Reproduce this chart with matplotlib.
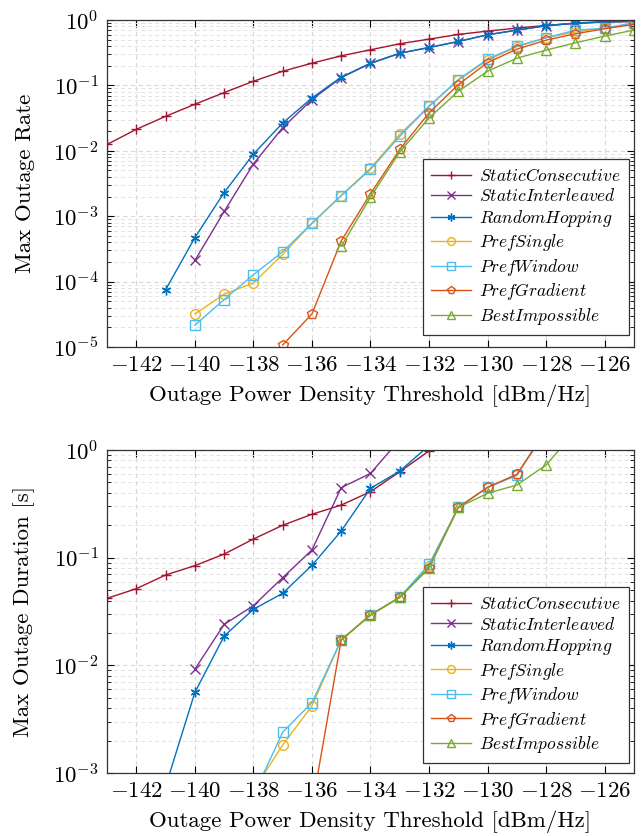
import numpy as np
import matplotlib
matplotlib.use('Agg')
import matplotlib.pyplot as plt
from matplotlib.ticker import LogLocator, NullFormatter, FixedLocator

plt.rcParams['font.family'] = 'cmr10'
plt.rcParams['mathtext.fontset'] = 'cm'
plt.rcParams['axes.formatter.use_mathtext'] = True
plt.rcParams['font.size'] = 16

names = ['StaticConsecutive', 'StaticInterleaved', 'RandomHopping', 'PrefSingle',
         'PrefWindow', 'PrefGradient', 'BestImpossible']
colors = ['#A2142F', '#7E2F8E', '#0072BD', '#EDB120', '#4DBEEE', '#D95319', '#77AC30']
markers = ['+', 'x', (6, 2, 0), 'o', 's', 'p', '^']

# Max Outage Rate
rate_x = {
    'StaticConsecutive': list(range(-143, -124)),
    'StaticInterleaved': list(range(-140, -124)),
    'RandomHopping': list(range(-141, -124)),
    'PrefSingle': list(range(-140, -124)),
    'PrefWindow': list(range(-140, -124)),
    'PrefGradient': list(range(-137, -124)),
    'BestImpossible': list(range(-135, -124)),
}
rate_y = {
    'StaticConsecutive': [0.0125, 0.0213, 0.0337, 0.0515, 0.0778, 0.116, 0.165, 0.219, 0.284,
                          0.351, 0.434, 0.511, 0.603, 0.678, 0.754, 0.828, 0.889, 0.932, 0.966],
    'StaticInterleaved': [2.1e-4, 1.18e-3, 6.3e-3, 0.0226, 0.0607, 0.132, 0.217, 0.31, 0.38,
                          0.47, 0.595, 0.70, 0.818, 0.898, 0.94, 0.952],
    'RandomHopping': [7.5e-5, 4.7e-4, 2.3e-3, 8.9e-3, 0.0266, 0.0644, 0.134, 0.219, 0.312,
                      0.381, 0.471, 0.596, 0.703, 0.819, 0.90, 0.94, 0.95],
    'PrefSingle': [3.2e-5, 6.4e-5, 9.5e-5, 2.6e-4, 7.8e-4, 2.07e-3, 5.4e-3, 0.0179, 0.048,
                   0.12, 0.244, 0.39, 0.536, 0.655, 0.762, 0.869],
    'PrefWindow': [2.15e-5, 5.3e-5, 1.27e-4, 2.86e-4, 7.8e-4, 2.07e-3, 5.2e-3, 0.0167, 0.048,
                   0.123, 0.252, 0.40, 0.536, 0.70, 0.75, 0.91],
    'PrefGradient': [1.07e-5, 3.2e-5, 4.2e-4, 2.2e-3, 0.0105, 0.038, 0.103, 0.224, 0.359,
                     0.493, 0.617, 0.736, 0.858],
    'BestImpossible': [3.46e-4, 1.95e-3, 9.6e-3, 0.0318, 0.0815, 0.165, 0.261, 0.347, 0.449,
                       0.568, 0.703],
}

# Max Outage Duration [s]
dur_x = {
    'StaticConsecutive': list(range(-143, -130)),
    'StaticInterleaved': list(range(-140, -132)),
    'RandomHopping': list(range(-141, -131)),
    'PrefSingle': list(range(-138, -127)),
    'PrefWindow': list(range(-138, -127)),
    'PrefGradient': list(range(-136, -127)),
    'BestImpossible': list(range(-135, -126)),
}
dur_y = {
    'StaticConsecutive': [0.0419, 0.0515, 0.069, 0.0843, 0.108, 0.149, 0.2, 0.253, 0.308,
                          0.41, 0.629, 0.98, 1.5],
    'StaticInterleaved': [9.2e-3, 0.024, 0.0358, 0.0652, 0.118, 0.447, 0.607, 1.25],
    'RandomHopping': [7.5e-4, 5.6e-3, 0.0187, 0.0331, 0.0467, 0.0849, 0.177, 0.441, 0.638, 1.1],
    'PrefSingle': [6.9e-4, 1.82e-3, 4.2e-3, 0.0172, 0.0294, 0.0428, 0.0837, 0.293, 0.45,
                   0.594, 1.5],
    'PrefWindow': [6.2e-4, 2.39e-3, 4.5e-3, 0.0172, 0.0294, 0.0428, 0.087, 0.293, 0.45,
                   0.58, 1.6],
    'PrefGradient': [4.8e-4, 0.0172, 0.0294, 0.0428, 0.08, 0.293, 0.45, 0.594, 1.5],
    'BestImpossible': [0.0172, 0.0294, 0.0428, 0.081, 0.293, 0.396, 0.473, 0.726, 1.5],
}

xticks = list(range(-142, -125, 2))

fig = plt.figure(figsize=(6.41, 8.36), dpi=100)
ax1 = fig.add_axes([0.167, 0.585, 0.822, 0.391])
ax2 = fig.add_axes([0.167, 0.0754, 0.822, 0.3863])


def draw(ax, xs, ys, ylim, ylabel, anchor):
    for name, c, m in zip(names, colors, markers):
        ax.plot(xs[name], ys[name], color=c, marker=m, markersize=7, linewidth=1.0,
                markerfacecolor='none', markeredgecolor=c, markeredgewidth=1.0,
                label=r'$\mathit{' + name + '}$')
    ax.set_yscale('log')
    ax.set_xlim(-143, -125)
    ax.set_ylim(*ylim)
    ax.xaxis.set_major_locator(FixedLocator(xticks))
    ax.yaxis.set_major_locator(LogLocator(base=10, numticks=10))
    ax.yaxis.set_minor_locator(LogLocator(base=10, subs=np.arange(2, 10), numticks=20))
    ax.yaxis.set_minor_formatter(NullFormatter())
    ax.grid(True, which='major', linestyle=(0, (4, 3)), color='#d8d8d8', linewidth=0.8)
    ax.grid(True, which='minor', axis='y', linestyle=(0, (4, 3)), color='#e3e3e3', linewidth=0.7)
    ax.tick_params(which='both', direction='in', top=True, right=True, labelsize=16.5)
    ax.tick_params(which='major', length=5, width=0.8, pad=6)
    ax.tick_params(which='minor', length=3, width=0.6)
    for s in ax.spines.values():
        s.set_linewidth(0.9)
        s.set_color('#333333')
    ax.set_xlabel('Outage Power Density Threshold [dBm/Hz]', fontsize=16.5, labelpad=7)
    ax.set_ylabel(ylabel, fontsize=16.5, labelpad=13)
    leg = ax.legend(loc='lower right', bbox_to_anchor=anchor, fontsize=12.6, frameon=True,
                    fancybox=False, edgecolor='#333333', framealpha=1.0, handlelength=2.3,
                    handletextpad=0.45, borderaxespad=0.0, labelspacing=0.2, borderpad=0.45,
                    markerscale=0.8)
    leg.get_frame().set_linewidth(0.9)


draw(ax1, rate_x, rate_y, (1e-5, 1), 'Max Outage Rate', (0.99, 0.037))
draw(ax2, dur_x, dur_y, (1e-3, 1), 'Max Outage Duration [s]', (0.99, 0.031))

fig.savefig('out.png', dpi=100)
